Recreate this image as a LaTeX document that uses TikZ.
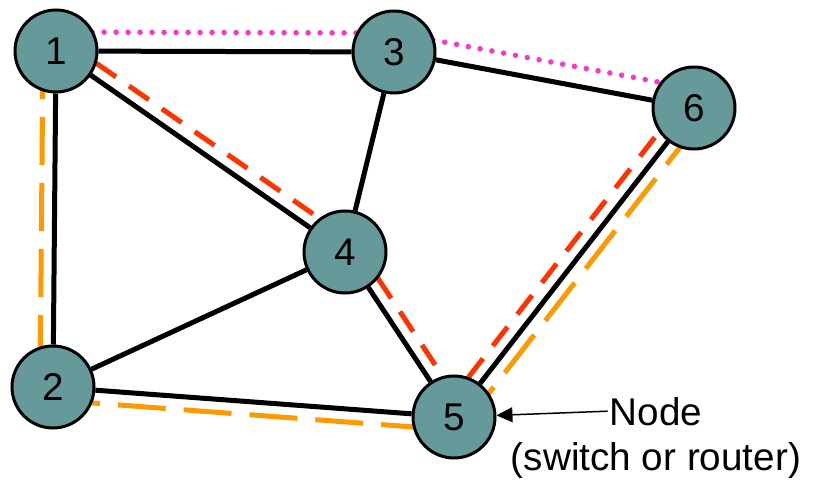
\documentclass[tikz,border=0pt]{standalone}
\usepackage{fontspec}
\setmainfont{Liberation Sans}
\usetikzlibrary{calc,arrows.meta,backgrounds}
\definecolor{nodeTeal}{HTML}{669999}
\definecolor{pathOrange}{HTML}{FF9900}
\definecolor{pathRed}{HTML}{FF3300}
\definecolor{pathPink}{HTML}{FF33CC}

\begin{document}
\begin{tikzpicture}
[nodeDecorate/.style={shape=circle,minimum size=1.64cm,inner sep=0pt,draw,line width=0.06cm,fill=nodeTeal,font=\fontsize{22}{26}\selectfont},%
  lineDecorate/.style={-,line width=0.1cm},
  orangeDecorate/.style={draw=pathOrange,line width=0.1cm,dash pattern=on 0.96cm off 0.36cm},
  redDecorate/.style={draw=pathRed,line width=0.1cm,dash pattern=on 0.48cm off 0.32cm},
  pinkDecorate/.style={draw=pathPink,line width=0.11cm,line cap=round,dash pattern=on 0pt off 0.24cm},
  labelDecorate/.style={font=\fontsize{22}{26}\selectfont,inner sep=1pt}]
\useasboundingbox (0,0) rectangle (16.3,9.72);
%% nodes or vertices
\foreach \nodename/\x/\y in {
  1/1.12/8.70, 2/1.06/1.98, 3/7.88/8.68,
  4/6.90/4.68, 5/9.08/1.38, 6/13.88/7.56}
{
  \node (n\nodename) at (\x,\y) [nodeDecorate] {\nodename};
}
\begin{pgfonlayer}{background}
%% edges or lines
\path
\foreach \startnode/\endnode in {
  1/2, 1/3, 1/4, 2/4, 2/5,
  3/4, 3/6, 4/5, 5/6}
{
  (n\startnode) edge[lineDecorate] (n\endnode)
};
%% paths along the links
\foreach \startnode/\endnode in {1/2, 2/5, 5/6}
{
  \draw[orangeDecorate] ($(n\startnode)!0.26cm!-90:(n\endnode)$) -- ($(n\endnode)!0.26cm!90:(n\startnode)$);
}
\foreach \startnode/\endnode in {1/4, 4/5, 5/6}
{
  \draw[redDecorate] ($(n\startnode)!0.26cm!90:(n\endnode)$) -- ($(n\endnode)!0.26cm!-90:(n\startnode)$);
}
\foreach \startnode/\endnode in {1/3, 3/6}
{
  \draw[pinkDecorate] ($(n\startnode)!0.38cm!90:(n\endnode)$) -- ($(n\endnode)!0.38cm!-90:(n\startnode)$);
}
\end{pgfonlayer}
%% label
\node[labelDecorate, anchor=base] (nodeLabel) at (13.12,1.22) {Node};
\node[labelDecorate, anchor=base] (nodeSub) at (13.12,0.32) {(switch or router)};
\draw[-{Triangle[length=0.32cm,width=0.3cm]}, line width=0.03cm] (nodeLabel.west) -- (n5);
\end{tikzpicture}
\end{document}
